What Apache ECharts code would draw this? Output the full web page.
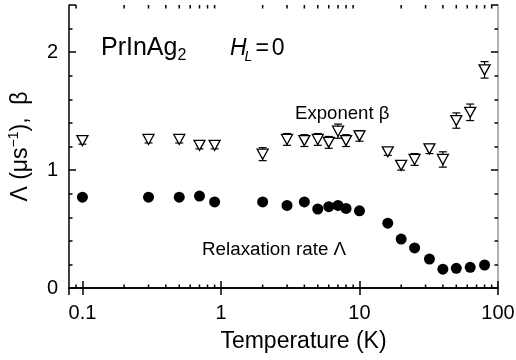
<!DOCTYPE html>
<html>
<head>
<meta charset="utf-8">
<script src="https://cdn.jsdelivr.net/npm/echarts@6/dist/echarts.min.js"></script>
<style>
  html, body { margin: 0; padding: 0; background: #fff; }
  #chart { width: 516px; height: 360px; }
</style>
</head>
<body>
<div id="chart"></div>
<script>
// 温度 (K)
const temps = [0.1, 0.3, 0.5, 0.7, 0.9, 2, 3, 4, 5, 6, 7, 8, 10, 16, 20, 25, 32, 40, 50, 63, 80];
// 弛豫率 Λ (μs^-1)
const lambdaValues = [0.77, 0.77, 0.77, 0.78, 0.73, 0.73, 0.70, 0.73, 0.67, 0.69, 0.70, 0.675, 0.655, 0.55, 0.415, 0.34, 0.245, 0.16, 0.167, 0.175, 0.195];
// 指数 β 及误差
const betaValues = [1.25, 1.26, 1.26, 1.21, 1.21, 1.135, 1.26, 1.25, 1.26, 1.235, 1.33, 1.25, 1.29, 1.155, 1.04, 1.09, 1.18, 1.09, 1.42, 1.49, 1.85];
const betaErrors = [0.03, 0.03, 0.03, 0.03, 0.03, 0.055, 0.05, 0.05, 0.05, 0.05, 0.06, 0.05, 0.045, 0.03, 0.04, 0.05, 0.04, 0.065, 0.065, 0.07, 0.07];
// x 轴次刻度 (对数轴)
const minorTicks = [0.09, 0.2, 0.3, 0.4, 0.5, 0.6, 0.7, 0.8, 0.9, 2, 3, 4, 5, 6, 7, 8, 9, 20, 30, 40, 50, 60, 70, 80, 90];

const FONT = "'Liberation Sans', Arial, Helvetica, sans-serif";
const X_MIN = 0.08, X_MAX = 100, Y_MIN = 0, Y_MAX = 2.4;

const chart = echarts.init(document.getElementById("chart"));

const lineStyle = { stroke: "#000", lineWidth: 1.2 };

// 通用 y 轴
const makeY = (position, interval, tickLen, opts) => Object.assign({
  type: "value",
  position: position,
  min: Y_MIN,
  max: Y_MAX,
  interval: interval,
  axisLine: { show: false },
  axisTick: { show: true, inside: true, length: tickLen, lineStyle: { color: "#000", width: 1.5 } },
  axisLabel: { show: false },
  splitLine: { show: false },
}, opts || {});

const makeX = (position, opts) => Object.assign({
  type: "log",
  logBase: 10,
  position: position,
  min: X_MIN,
  max: X_MAX,
  axisLine: { show: true, lineStyle: { color: "#000", width: 1.5 } },
  axisTick: { show: true, inside: true, length: 7, lineStyle: { color: "#000", width: 1.5 } },
  axisLabel: { show: false },
  splitLine: { show: false },
  minorTick: { show: false },
}, opts || {});

const option = {
  animation: false,
  backgroundColor: "#fff",
  grid: { left: 69, right: 18, top: 5, bottom: 72, containLabel: false, outerBoundsMode: "none" },
  xAxis: [
    makeX("bottom", {
      name: "Temperature (K)",
      nameLocation: "middle",
      nameGap: 42,
      nameTextStyle: { fontFamily: FONT, fontSize: 23, color: "#000", padding: [0, 0, 0, 40] },
      axisLabel: {
        show: true,
        margin: 15,
        fontFamily: FONT,
        fontSize: 20,
        color: "#000",
        showMinLabel: false,
        formatter: (v) => String(+(+v).toPrecision(6)),
      },
    }),
    makeX("top", {}),
  ],
  yAxis: [
    makeY("left", 0.2, 3.5, {
      axisLine: { show: true, lineStyle: { color: "#000", width: 1.5 } },
      axisLabel: {
        show: true,
        margin: 11,
        fontFamily: FONT,
        fontSize: 20,
        color: "#000",
        formatter: (v) => (Math.abs(v - Math.round(v)) < 1e-6 ? String(Math.round(v)) : ""),
      },
      name: "{t|Λ (μs}{sup|−1}{t|),  β}",
      nameLocation: "middle",
      nameGap: 34,
      nameTextStyle: {
        fontFamily: FONT,
        color: "#000",
        rich: {
          t: { fontFamily: FONT, fontSize: 23, lineHeight: 28, color: "#000" },
          sup: { fontFamily: FONT, fontSize: 14, lineHeight: 15, verticalAlign: "top", color: "#000" },
        },
      },
    }),
    makeY("left", 1, 7),
    makeY("right", 0.2, 3.5, { axisLine: { show: true, lineStyle: { color: "#999", width: 1.5 } } }),
    makeY("right", 1, 7),
  ],
  graphic: [
    {
      type: "text",
      x: 101, y: 33,
      style: {
        text: "{n|PrInAg}{sub|2}",
        rich: {
          n: { fontFamily: FONT, fontSize: 25, lineHeight: 31, fill: "#000" },
          sub: { fontFamily: FONT, fontSize: 16, lineHeight: 16, verticalAlign: "bottom", fill: "#000" },
        },
      },
    },
    {
      type: "text",
      x: 230, y: 33,
      style: {
        text: "{i|H}{isub|L}{eq|=}{n|0}",
        rich: {
          n: { fontFamily: FONT, fontSize: 23, lineHeight: 31, fill: "#000", padding: [0, 0, 0, 3] },
          eq: { fontFamily: FONT, fontSize: 23, lineHeight: 31, fill: "#000", padding: [0, 0, 0, 3] },
          i: { fontFamily: FONT, fontSize: 23, lineHeight: 31, fontStyle: "italic", fill: "#000" },
          isub: { fontFamily: FONT, fontSize: 14, lineHeight: 16, fontStyle: "italic", verticalAlign: "bottom", fill: "#000", padding: [0, 0, 0, -2] },
        },
      },
    },
    {
      type: "text",
      x: 295, y: 104,
      style: { text: "Exponent β", font: "18.6px " + FONT, fill: "#000" },
    },
    {
      type: "text",
      x: 202, y: 240,
      style: { text: "Relaxation rate Λ", font: "18.8px " + FONT, fill: "#000" },
    },
  ],
  series: [
    {
      // 次刻度
      type: "custom",
      xAxisIndex: 0,
      yAxisIndex: 0,
      silent: true,
      clip: false,
      data: minorTicks.map((v) => [v, Y_MIN]),
      renderItem: (params, api) => {
        const v = api.value(0);
        const b = api.coord([v, Y_MIN]);
        const t = api.coord([v, Y_MAX]);
        return {
          type: "group",
          children: [
            { type: "line", shape: { x1: b[0], y1: b[1], x2: b[0], y2: b[1] - 3.5 }, style: { stroke: "#000", lineWidth: 1.5 } },
            { type: "line", shape: { x1: t[0], y1: t[1], x2: t[0], y2: t[1] + 3.5 }, style: { stroke: "#000", lineWidth: 1.5 } },
          ],
        };
      },
    },
    {
      // β 误差棒
      type: "custom",
      xAxisIndex: 0,
      yAxisIndex: 0,
      silent: true,
      z: 2,
      data: temps.map((t, i) => [t, betaValues[i], betaErrors[i]]),
      renderItem: (params, api) => {
        const x = api.value(0), y = api.value(1), e = api.value(2);
        const top = api.coord([x, y + e]);
        const bot = api.coord([x, y - e]);
        const w = 4;
        return {
          type: "group",
          children: [
            { type: "line", shape: { x1: top[0], y1: top[1], x2: bot[0], y2: bot[1] }, style: lineStyle },
            { type: "line", shape: { x1: top[0] - w, y1: top[1], x2: top[0] + w, y2: top[1] }, style: lineStyle },
            { type: "line", shape: { x1: bot[0] - w, y1: bot[1], x2: bot[0] + w, y2: bot[1] }, style: lineStyle },
          ],
        };
      },
    },
    {
      name: "Exponent β",
      type: "scatter",
      xAxisIndex: 0,
      yAxisIndex: 0,
      z: 3,
      symbol: "triangle",
      symbolRotate: 180,
      symbolSize: [11, 10],
      itemStyle: { color: "#fff", borderColor: "#000", borderWidth: 1.3, opacity: 1 },
      data: temps.map((t, i) => [t, betaValues[i]]),
    },
    {
      name: "Relaxation rate Λ",
      type: "scatter",
      xAxisIndex: 0,
      yAxisIndex: 0,
      z: 3,
      symbol: "circle",
      symbolSize: 11,
      itemStyle: { color: "#000", opacity: 1 },
      data: temps.map((t, i) => [t, lambdaValues[i]]),
    },
  ],
};

chart.setOption(option);

window.addEventListener("resize", () => {
  chart.resize();
});
</script>
</body>
</html>
